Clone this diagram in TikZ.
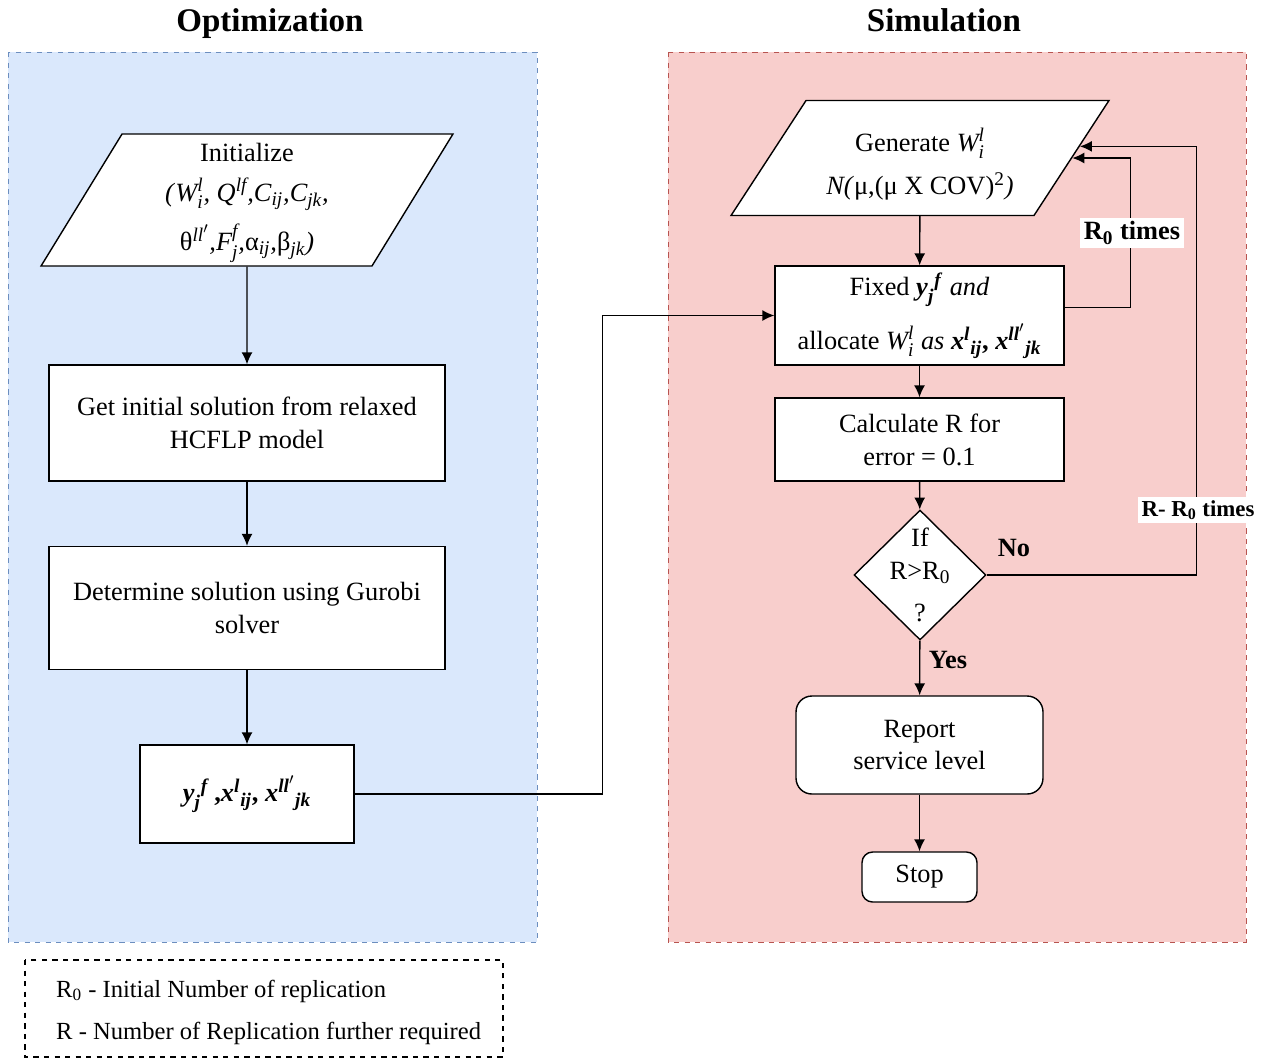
\documentclass[tikz,border=0pt]{standalone}
\usepackage{amsmath}
\usepackage{fontspec}
\setmainfont{Liberation Serif}
\usetikzlibrary{arrows.meta,positioning,calc,shapes.geometric}
\DeclareMathSizes{15}{15}{11}{9}
\definecolor{optfill}{HTML}{DAE8FC}
\definecolor{optline}{HTML}{6C8EBF}
\definecolor{simfill}{HTML}{F8CECC}
\definecolor{simline}{HTML}{B85450}
\newcommand{\ti}[1]{\textit{#1}}
\newcommand{\bi}[1]{\textbf{\textit{#1}}}

\begin{document}
\begin{tikzpicture}[x=0.02cm, y=-0.02cm,
  font=\fontsize{15}{18.7}\selectfont,
  block/.style={rectangle, draw, thick, fill=white, align=center, inner sep=2pt},
  io/.style={trapezium, draw, thick, fill=white, inner sep=0pt},
  decision/.style={diamond, draw, thick, fill=white, inner sep=0pt,
    minimum width=2.64cm, minimum height=2.6cm},
  term/.style={rectangle, rounded corners=9pt, draw, thick, fill=white, align=center},
  arrow/.style={-{Latex[length=2.4mm,width=2.2mm]}, thick},
  title/.style={font=\fontsize{18.8}{22}\selectfont\bfseries, anchor=base},
  tag/.style={font=\fontsize{15}{18}\selectfont\bfseries, fill=white, inner sep=2pt},
  note/.style={font=\fontsize{14}{17}\selectfont, anchor=west}
]
\useasboundingbox (0,0) rectangle (1270,1059);

% panels
\draw[optline, dashed, fill=optfill] (8,52) rectangle (537,942);
\draw[simline, dashed, fill=simfill] (668,52) rectangle (1246,942);
\node[title] (optt) at (270,31) {Optimization};
\node[title] (simt) at (944,31) {Simulation};

% optimization side
\node[io, trapezium left angle=58.47, trapezium right angle=121.53] (init) at (247,200)
  {\parbox[c][2.64cm][c]{5cm}{\centering\vspace*{0.12cm}
   Initialize\\[4pt]
   \ti{(}$\ti{W}_{\ti{i}}^{\ti{l}}$\ti{,} $\ti{Q}^{\ti{lf}}$\ti{,}$\ti{C}_{\ti{ij}}$\ti{,}$\ti{C}_{\ti{jk}}$\ti{,}\\[7pt]
   θ$^{\ti{ll}'}$\ti{,}$\ti{F}_{\ti{j}}^{\ti{f}}$\ti{,}α$_{\ti{ij}}$\ti{,}β$_{\ti{jk}}$\ti{)}}};
\node[block, minimum width=7.92cm, minimum height=2.32cm] (relax) at (247,423)
  {Get initial solution from relaxed\\HCFLP model};
\node[block, minimum width=7.92cm, minimum height=2.46cm] (gurobi) at (247,608)
  {Determine solution using Gurobi\\solver};
\node[block, minimum width=4.28cm, minimum height=1.96cm] (sol) at (247,794)
  {$\bi{y}_{\bi{j}}{}^{\bi{f}}$\,\textbf{,}$\bi{x}^{\bi{l}}{}_{\bi{ij}}$\textbf{,} $\bi{x}^{\bi{ll}'}{}_{\bi{jk}}$};

% simulation side
\node[io, trapezium left angle=56.89, trapezium right angle=123.11] (gen) at (920,158)
  {\parbox[c][2.3cm][c]{4.56cm}{\centering\vspace*{0.25cm}
   Generate $\ti{W}_{\ti{i}}^{\ti{l}}$\\[5.5pt]
   $\ti{N}$\ti{(}μ,(μ X COV)\textsuperscript{2}\ti{)}}};
\node[block, minimum width=5.78cm, minimum height=1.98cm] (fix) at (919.5,315.5)
  {Fixed $\bi{y}_{\bi{j}}{}^{\bi{f}}$ \ti{and}\\[9pt]
   allocate $\ti{W}_{\ti{i}}^{\ti{l}}$ \ti{as} $\bi{x}^{\bi{l}}{}_{\bi{ij}}$\textbf{,} $\bi{x}^{\bi{ll}'}{}_{\bi{jk}}$};
\node[block, minimum width=5.78cm, minimum height=1.66cm] (calc) at (919.5,439.5)
  {Calculate R for\\error = 0.1};
\node[decision] (check) at (920,575)
  {\smash{\makebox[0pt]{\raisebox{-5pt}{\begin{tabular}{@{}c@{}}If\\[0pt]R>R\textsubscript{0}\\[5pt]?\end{tabular}}}}};
\node[term, minimum width=4.94cm, minimum height=1.96cm] (report) at (919.5,745)
  {Report\\service level};
\node[term, rounded corners=6pt, minimum width=2.3cm, minimum height=1cm] (stop) at (919.5,877)
  {Stop};

\coordinate (back1) at ($(gen.top right corner)!0.5!(gen.bottom right corner)$);
\coordinate (back2) at ($(gen.top right corner)!0.4!(gen.bottom right corner)$);

% connectors
\draw[arrow] (init) -- (relax);
\draw[arrow] (relax) -- (gurobi);
\draw[arrow] (gurobi) -- (sol);
\draw[arrow] (sol.east) -- ++(248,0) |- (fix.west);
\draw[arrow] (gen) -- (fix);
\draw[arrow] (fix) -- (calc);
\draw[arrow] (calc) -- (check);
\draw[arrow] (check) -- (report);
\draw[arrow] (report) -- (stop);
\draw[arrow] ([yshift=0.16cm]fix.east) -- ++(66,0) |- (back1);
\draw[arrow] (check.east) -- ++(210,0) |- (back2);

% labels
\node[tag] (r0tag) at (1132,233) {R\textsubscript{0} times};
\node[tag, font=\fontsize{13}{16}\selectfont\bfseries] (rtag) at (1198,510) {R- R\textsubscript{0} times};
\node[tag, fill=none] (yes) at (948,660) {Yes};
\node[tag, fill=none] (no) at (1014,548) {No};

% legend
\draw[dashed, thick] (25,960) rectangle (503,1057);
\node[note] (leg1) at (50,991) {R\textsubscript{0} - Initial Number of replication};
\node[note] (leg2) at (50,1033) {R - Number of Replication further required};
\end{tikzpicture}
\end{document}
